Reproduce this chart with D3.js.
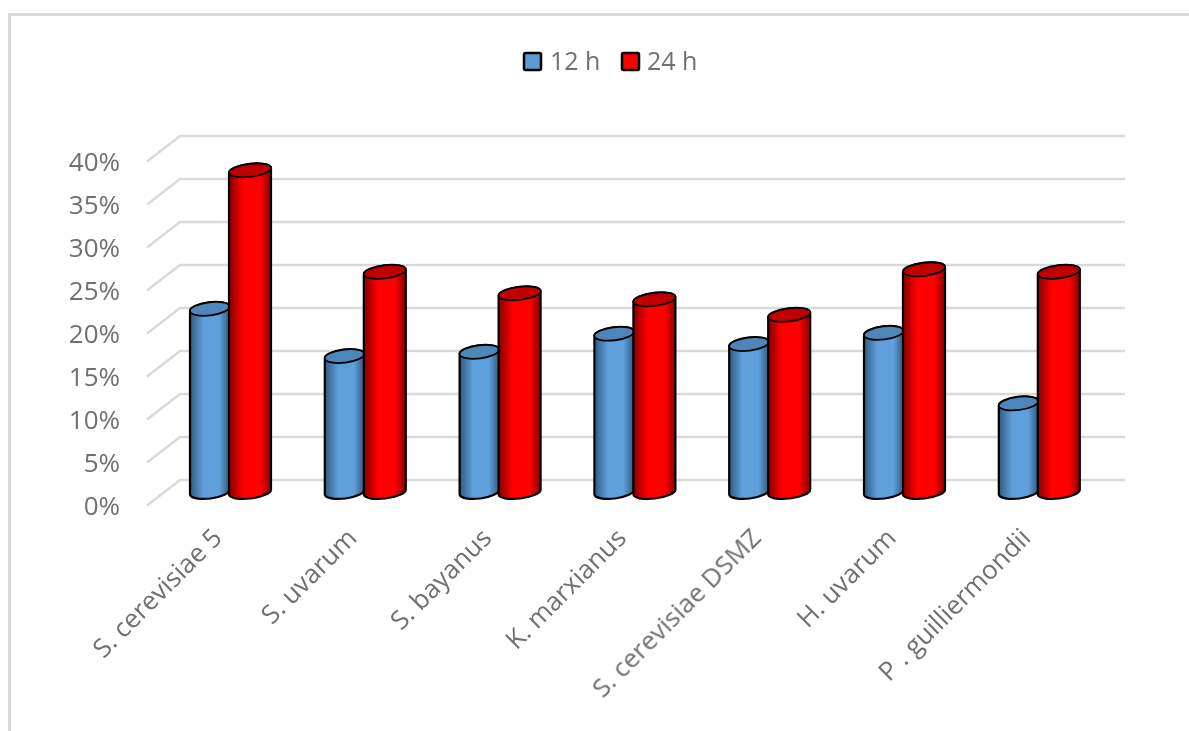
<!DOCTYPE html>
<html>
<head>
<meta charset="utf-8">
<script src="https://cdn.jsdelivr.net/npm/d3@7"></script>
<style>
  html, body { margin: 0; background: #fff; }
  text { font-family: "Open Sans", sans-serif; fill: #707070; }
</style>
</head>
<body>
<script>
const categories = ["S. cerevisiae 5", "S. uvarum", "S. bayanus", "K. marxianus", "S. cerevisiae DSMZ", "H. uvarum", "P . guilliermondii"];
const h12 = [21.3, 15.8, 16.3, 18.4, 17.2, 18.5, 10.3];
const h24 = [37.4, 25.6, 23.1, 22.4, 20.6, 25.9, 25.6];
const seriesNames = ["12 h", "24 h"];
const yTicks = [0, 5, 10, 15, 20, 25, 30, 35, 40];

const width = 1189, height = 731;

const svg = d3.select("body").append("svg")
    .attr("width", width)
    .attr("height", height);

// frame, only top and left edges show
svg.append("path")
    .attr("d", `M${9.5},${height} V14.5 H${width}`)
    .attr("fill", "none")
    .attr("stroke", "#d9d9d9")
    .attr("stroke-width", 3);

const defs = svg.append("defs");
function cylGradient(id, edge, mid) {
    const g = defs.append("linearGradient").attr("id", id);
    g.append("stop").attr("offset", "0%").attr("stop-color", edge);
    g.append("stop").attr("offset", "34%").attr("stop-color", mid);
    g.append("stop").attr("offset", "74%").attr("stop-color", mid);
    g.append("stop").attr("offset", "100%").attr("stop-color", edge);
}
cylGradient("blueCyl", "#30597f", "#5fa0dc");
cylGradient("redCyl", "#860000", "#ff0000");

// the reference is a soft screenshot, a small blur gets the same edges
defs.append("filter").attr("id", "soft")
    .append("feGaussianBlur").attr("stdDeviation", 0.45);

// the middle of the floor is where the cylinders stand
const floorY = 492, pxPerUnit = 8.6;
const y = d3.scaleLinear().domain([0, 40]).range([floorY, floorY - 40 * pxPerUnit]);
const x = d3.scaleBand().domain(categories).range([162, 1105.6]);

// gridlines: floor edge then back wall
svg.append("g")
    .attr("filter", "url(#soft)")
    .selectAll("path")
    .data(yTicks)
    .join("path")
    .attr("d", d => {
        const yb = y(d) - 12, yf = y(d) + 13.5;
        return `M${x.range()[0] - 15},${yf} L${x.range()[0] + 18},${yb} H${x.range()[1] + 19.4}`;
    })
    .attr("fill", "none")
    .attr("stroke", "#d9d9d9")
    .attr("stroke-width", 2.5);

// y labels
const yFront = y.copy().range(y.range().map(v => v + 14));
const yAxis = svg.append("g")
    .attr("transform", "translate(120,0)")
    .attr("filter", "url(#soft)")
    .call(d3.axisLeft(yFront).tickValues(yTicks).tickSize(0).tickPadding(0).tickFormat(d => d + "%"));
yAxis.select(".domain").remove();
yAxis.selectAll("text")
    .style("font-family", "'Open Sans'")
    .style("font-size", "26px");

const capRy = 6.5, tilt = 2.5, capAngle = -7;
function cylinder(x0, x1, top) {
    const rx = (x1 - x0) / 2;
    const base = y(0);
    return `M${x0},${top + tilt} L${x0},${base + tilt}` +
        ` A${rx},${capRy} ${capAngle} 0 0 ${x1},${base - tilt}` +
        ` L${x1},${top - tilt}` +
        ` A${rx},${capRy} ${capAngle} 0 0 ${x0},${top + tilt} Z`;
}
function topCap(x0, x1, top) {
    const rx = (x1 - x0) / 2;
    return `M${x0},${top + tilt} A${rx},${capRy} ${capAngle} 0 1 ${x1},${top - tilt} A${rx},${capRy} ${capAngle} 0 1 ${x0},${top + tilt} Z`;
}

const series = [
    { name: seriesNames[0], values: h12, fill: "url(#blueCyl)", cap: "#4f86ba", x0: 28, x1: 67.5 },
    { name: seriesNames[1], values: h24, fill: "url(#redCyl)", cap: "#c00000", x0: 67, x1: 109 }
];

const bars = svg.append("g").attr("filter", "url(#soft)");
categories.forEach((c, i) => {
    series.forEach(s => {
        const left = x(c) + s.x0, right = x(c) + s.x1, top = y(s.values[i]);
        bars.append("path")
            .attr("d", cylinder(left, right, top))
            .attr("fill", s.fill)
            .attr("stroke", "#000")
            .attr("stroke-width", 2.2)
            .attr("stroke-linejoin", "round");
        bars.append("path")
            .attr("d", topCap(left, right, top))
            .attr("fill", s.cap)
            .attr("stroke", "#000")
            .attr("stroke-width", 1.8);
    });
});

// category labels, rotated
svg.append("g")
    .attr("filter", "url(#soft)")
    .selectAll("text")
    .data(categories)
    .join("text")
    .attr("transform", d => `translate(${x(d) + 55},${533}) rotate(-45)`)
    .attr("text-anchor", "end")
    .attr("font-size", 26)
    .attr("dy", "0.35em")
    .text(d => d);

// legend
const legendItems = [
    { name: seriesNames[0], color: "#5b9bd5", bx: 524, tx: 550 },
    { name: seriesNames[1], color: "#ff0000", bx: 622, tx: 647 }
];
const legend = svg.append("g").attr("filter", "url(#soft)").selectAll("g").data(legendItems).join("g");
legend.append("rect")
    .attr("x", d => d.bx)
    .attr("y", 53)
    .attr("width", 17)
    .attr("height", 17)
    .attr("rx", 1.5)
    .attr("fill", d => d.color)
    .attr("stroke", "#000")
    .attr("stroke-width", 2.5);
legend.append("text")
    .attr("x", d => d.tx)
    .attr("y", 70)
    .attr("font-size", 25)
    .text(d => d.name);
</script>
</body>
</html>
